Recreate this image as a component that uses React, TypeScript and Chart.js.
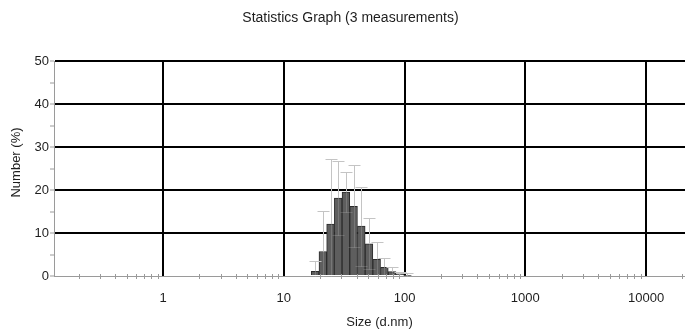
import React, { useEffect, useRef } from 'react';
import { Chart, registerables } from 'chart.js';

Chart.register(...registerables);

// ---- data ----
const sizes = [18.17, 21.04, 24.36, 28.21, 32.67, 37.84, 43.82, 50.75, 58.77, 68.06, 78.82, 91.28, 105.7];
const numberPct = [1.1, 5.7, 12.1, 18.1, 19.5, 16.2, 11.6, 7.5, 3.9, 2.0, 1.0, 0.5, 0.12];
const errorPct = [2.4, 9.5, 15.2, 8.6, 4.6, 9.5, 9.2, 5.9, 4.0, 2.3, 1.2, 0.35, 0.5];
const xMajorTicks = [1, 10, 100, 1000, 10000];
const xMin = 0.125;
const xMax = 21000;
const yMin = 0;
const yMax = 50;
const yStep = 5;
const chartTitle = 'Statistics Graph (3 measurements)';
const xTitle = 'Size (d.nm)';
const yTitle = 'Number (%)';

const FONT = "'Liberation Sans', Arial, sans-serif";
const TEXT = '#1e1e1e';

const errorBarPlugin = {
  id: 'errorBars',
  afterDatasetsDraw(chart: any) {
    const ctx = chart.ctx;
    const xs = chart.scales.x;
    const ys = chart.scales.y;
    ctx.save();
    ctx.lineWidth = 1;
    sizes.forEach((s, i) => {
      const v = numberPct[i];
      const e = errorPct[i];
      const px = Math.round(xs.getPixelForValue(s)) + 0.5;
      const pTop = Math.round(ys.getPixelForValue(v + e)) + 0.5;
      const pVal = ys.getPixelForValue(v);
      const low = Math.max(0, v - e);
      const pLow = Math.round(ys.getPixelForValue(low)) + 0.5;
      ctx.strokeStyle = '#c4c4c4';
      ctx.beginPath();
      ctx.moveTo(px, pVal);
      ctx.lineTo(px, pTop);
      ctx.moveTo(px - 6, pTop);
      ctx.lineTo(px + 6, pTop);
      ctx.stroke();
      ctx.strokeStyle = 'rgba(255,255,255,0.16)';
      ctx.beginPath();
      ctx.moveTo(px, pVal);
      ctx.lineTo(px, pLow);
      if (low > 0) {
        ctx.moveTo(px - 6, pLow);
        ctx.lineTo(px + 6, pLow);
      }
      ctx.stroke();
    });
    ctx.restore();
  },
};

const minorTickPlugin = {
  id: 'minorTicks',
  afterDraw(chart: any) {
    const ctx = chart.ctx;
    const xs = chart.scales.x;
    const y0 = chart.chartArea.bottom;
    ctx.save();
    ctx.strokeStyle = '#9a9a9a';
    ctx.lineWidth = 1;
    ctx.beginPath();
    for (let n = -1; n <= 4; n++) {
      for (let k = 2; k <= 9; k++) {
        const v = k * Math.pow(10, n);
        if (v < xs.min || v > xs.max) continue;
        const px = Math.round(xs.getPixelForValue(v)) + 0.5;
        ctx.moveTo(px, y0 - 2);
        ctx.lineTo(px, y0 + 3);
      }
    }
    ctx.stroke();
    ctx.restore();
  },
};

// titles placed like the reference (slightly off the geometric centres)
const titlesPlugin = {
  id: 'titles',
  afterDraw(chart: any) {
    const ctx = chart.ctx;
    const area = chart.chartArea;
    ctx.save();
    ctx.fillStyle = TEXT;
    ctx.textAlign = 'center';
    ctx.textBaseline = 'middle';
    ctx.font = `14px ${FONT}`;
    ctx.fillText(chartTitle, chart.width / 2 + 8, 18);
    ctx.font = `13px ${FONT}`;
    ctx.fillText(xTitle, (area.left + area.right) / 2 + 10, chart.height - 7);
    ctx.translate(16, (area.top + area.bottom) / 2 - 6);
    ctx.rotate(-Math.PI / 2);
    ctx.fillText(yTitle, 0, 0);
    ctx.restore();
  },
};

export default function App() {
  const canvasRef = useRef<HTMLCanvasElement | null>(null);

  useEffect(() => {
    if (!canvasRef.current) return;
    const chart = new Chart(canvasRef.current, {
      type: 'bar',
      data: {
        datasets: [
          {
            label: yTitle,
            data: sizes.map((s, i) => ({ x: s, y: numberPct[i] })),
            backgroundColor: '#5e5e5e',
            borderColor: '#2c2c2c',
            borderWidth: 1,
            categoryPercentage: 1,
            barPercentage: 1,
            grouped: false,
          } as any,
        ],
      },
      options: {
        responsive: false,
        animation: false,
        events: [],
        layout: { padding: { top: 61, left: 0, right: 0, bottom: 0 } },
        plugins: {
          legend: { display: false },
          tooltip: { enabled: false },
          title: { display: false },
        },
        scales: {
          x: {
            type: 'logarithmic',
            min: xMin,
            max: xMax,
            offset: false,
            afterBuildTicks: (s: any) => {
              s.ticks = xMajorTicks.map((v) => ({ value: v }));
            },
            afterFit: (s: any) => {
              s.height = 53;
            },
            grid: { offset: false, color: '#000', lineWidth: 2, drawTicks: false },
            border: { display: true, color: '#9a9a9a', width: 1 },
            ticks: {
              autoSkip: false,
              maxRotation: 0,
              padding: 15,
              color: TEXT,
              font: { family: FONT, size: 13 },
              callback: (v: any) => String(v),
            },
            title: { display: false },
          } as any,
          y: {
            type: 'linear',
            min: yMin,
            max: yMax,
            afterFit: (s: any) => {
              s.width = 54;
            },
            grid: {
              color: (c: any) =>
                c.tick && c.tick.value > 0 && c.tick.value % 10 === 0 ? '#000' : 'rgba(0,0,0,0)',
              lineWidth: 2,
              tickColor: '#9a9a9a',
              tickWidth: 1,
              tickLength: 4,
            },
            border: { display: true, color: '#9a9a9a', width: 1 },
            ticks: {
              stepSize: yStep,
              autoSkip: false,
              padding: 1,
              color: TEXT,
              font: { family: FONT, size: 13 },
              callback: (v: any) => (v % 10 === 0 ? String(v) : ''),
            },
            title: { display: false },
          } as any,
        },
      },
      plugins: [errorBarPlugin, minorTickPlugin, titlesPlugin],
    });
    return () => chart.destroy();
  }, []);

  return (
    <div style={{ position: 'fixed', left: 0, top: 0, width: 685, height: 329, background: '#fff' }}>
      <canvas ref={canvasRef} width={685} height={329} style={{ display: 'block' }} />
    </div>
  );
}
